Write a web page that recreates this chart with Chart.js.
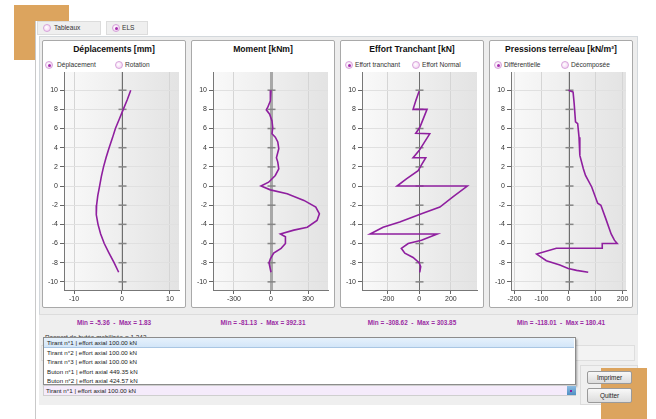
<!DOCTYPE html>
<html>
<head>
<meta charset="utf-8">
<script src="https://cdn.jsdelivr.net/npm/chart.js@4.4.0/dist/chart.umd.min.js"></script>
<style>
body{margin:0;width:656px;height:419px;overflow:hidden;background:#fff;font-family:"Liberation Sans",Arial,sans-serif;position:relative}
div,span,canvas{position:absolute;box-sizing:border-box}
.orange{background:#dca45e}
.tab{background:#efefef;border:1px solid #dcdcdc;height:14px;top:21px}
.radio{width:8px;height:8px;border-radius:50%;border:1px solid #d7a3da;background:radial-gradient(circle at 40% 40%,#fff 0,#f6def6 60%,#ebbfee 100%)}
.radio.on::after{content:"";position:absolute;left:1.5px;top:1.5px;width:3px;height:3px;border-radius:50%;background:#a52fae}
.lbl{font-size:6.6px;color:#333;white-space:nowrap;line-height:8px}
.panel{background:#fff;border:1px solid #a9a9a9;border-radius:2px;top:40px;width:144px;height:268px}
.title{font-size:8.6px;font-weight:bold;color:#111;width:144px;text-align:center;top:44px;white-space:nowrap}
.mm{font-size:6.4px;font-weight:bold;color:#9b2ca3;white-space:nowrap;top:319px;width:150px;text-align:center}
.item{left:0;width:530px;height:9.5px;font-size:6.2px;line-height:9.5px;padding-left:3px;color:#222;white-space:nowrap}
.btn{left:587px;width:45px;border:1px solid #9a9a9a;border-radius:2px;background:linear-gradient(#f8f8f8,#dcdcdc);font-size:6.4px;color:#222;text-align:center}
</style>
</head>
<body>
<div class="orange" style="left:14px;top:5px;width:55px;height:55px"></div>
<div style="left:35px;top:21px;width:621px;height:398px;background:#fff;border-left:1px solid #c9c9c9"></div>

<div class="tab" style="left:37px;width:64px"></div>
<div class="radio" style="left:43px;top:24px"></div>
<span class="lbl" style="left:54px;top:24px">Tableaux</span>
<div class="tab" style="left:106px;width:42px"></div>
<div class="radio on" style="left:112px;top:24px"></div>
<span class="lbl" style="left:122px;top:24px">ELS</span>

<div style="left:39px;top:36px;width:599px;height:369px;background:#ededed;border:1px solid #d3d8dc"></div>
<div style="left:39px;top:314px;width:599px;height:91px;border-top:1px solid #dcdcdc;background:#efefef"></div>

<div class="panel" style="left:42px"></div>
<div class="panel" style="left:191px"></div>
<div class="panel" style="left:340px"></div>
<div class="panel" style="left:489px"></div>

<span class="title" style="left:42px">Déplacements [mm]</span>
<span class="title" style="left:191px">Moment [kNm]</span>
<span class="title" style="left:340px">Effort Tranchant [kN]</span>
<span class="title" style="left:489px">Pressions terre/eau [kN/m²]</span>

<div class="radio on" style="left:45px;top:61px"></div><span class="lbl" style="left:57px;top:61px">Déplacement</span>
<div class="radio" style="left:115px;top:61px"></div><span class="lbl" style="left:125px;top:61px">Rotation</span>
<div class="radio on" style="left:345px;top:61px"></div><span class="lbl" style="left:355px;top:61px">Effort tranchant</span>
<div class="radio" style="left:412px;top:61px"></div><span class="lbl" style="left:422px;top:61px">Effort Normal</span>
<div class="radio on" style="left:494px;top:61px"></div><span class="lbl" style="left:504px;top:61px">Différentielle</span>
<div class="radio" style="left:561px;top:61px"></div><span class="lbl" style="left:571px;top:61px">Décomposée</span>

<canvas id="c1" width="141" height="238" style="left:42px;top:70px"></canvas>
<canvas id="c2" width="141" height="238" style="left:191px;top:70px"></canvas>
<canvas id="c3" width="141" height="238" style="left:340px;top:70px"></canvas>
<canvas id="c4" width="141" height="238" style="left:489px;top:70px"></canvas>

<span class="mm" style="left:39px">Min = -5.36 &nbsp;- &nbsp;Max = 1.83</span>
<span class="mm" style="left:188px">Min = -81.13 &nbsp;- &nbsp;Max = 392.31</span>
<span class="mm" style="left:337px">Min = -308.62 &nbsp;- &nbsp;Max = 303.85</span>
<span class="mm" style="left:486px">Min = -118.01 &nbsp;- &nbsp;Max = 180.41</span>

<span class="lbl" style="left:45px;top:334px;font-size:6.4px">Rapport de butée mobilisée = 1.343</span>
<div style="left:41px;top:345px;width:594px;height:16px;background:#f3f3f3;border:1px solid #dedede"></div>

<div style="left:43px;top:337px;width:533px;height:48px;background:#fff;border:1px solid #8c8c8c;box-shadow:1px 2px 2px rgba(0,0,0,.35)">
  <div class="item" style="top:0;background:linear-gradient(#e6f1fc,#d3e6f8);border-bottom:1px solid #a9c6e3">Tirant n°1 | effort axial 100.00 kN</div>
  <div class="item" style="top:9.5px">Tirant n°2 | effort axial 100.00 kN</div>
  <div class="item" style="top:19px">Tirant n°3 | effort axial 100.00 kN</div>
  <div class="item" style="top:28.5px">Buton n°1 | effort axial 449.35 kN</div>
  <div class="item" style="top:38px">Buton n°2 | effort axial 424.57 kN</div>
</div>
<div style="left:43px;top:385px;width:533px;height:11px;background:#f5ebfb;border:1px solid #cfcfcf">
  <div class="item" style="top:0;height:9px;line-height:9px;padding-left:2px">Tirant n°1 | effort axial 100.00 kN</div>
  <div style="left:523px;top:0;width:9px;height:9px;background:linear-gradient(#8dbde3,#4f8fc2)"><div style="left:3px;top:3.5px;width:2px;height:2px;background:#8a1f9a"></div></div>
</div>

<div style="left:580px;top:365px;width:58px;height:40px;background:#f0f0f0;border:1px solid #dcdcdc"></div>
<div class="orange" style="left:601px;top:368px;width:46px;height:51px"></div>
<div class="btn" style="top:371px;height:13px;line-height:11px">Imprimer</div>
<div class="btn" style="top:388px;height:15px;line-height:13px">Quitter</div>

<script>
// profondeurs (m) et valeurs
const dispDepth = [10, 9, 8, 7, 6, 5, 4, 3, 2, 1, 0, -1, -2, -3, -4, -5, -6, -7, -8, -9];
const dispValue = [1.83, 1.1, 0.27, -0.55, -1.37, -2.0, -2.68, -3.3, -3.85, -4.3, -4.67, -5.05, -5.3, -5.36, -5.0, -4.45, -3.7, -2.7, -1.65, -0.69];

const momDepth = [10, 8.9, 8.2, 7.95, 7.5, 6.8, 6.1, 5.45, 5.1, 4.6, 3.9, 2.95, 2.5, 1.8, 1.1, 0.4, 0, -0.4, -0.8, -1.5, -2.2, -2.9, -3.6, -4.3, -4.6, -5.0, -5.3, -6.0, -6.5, -7.0, -7.6, -8.0, -9.0];
const momValue = [0, -5, -27, -38, -11, 8, 14, 8, 35, 55, 63, 44, 55, 63, 35, -19, -81.13, -5, 131, 267, 363, 392.31, 373, 294, 185, 76, 117, 117, 82, 22, -5, -16, 0];

const shearDepth = [9.9, 8.9, 8.0, 8.0, 6.8, 6.1, 5.5, 5.45, 4.35, 3.7, 2.95, 2.95, 2.2, 1.6, 0.75, 0, 0, -1.1, -2.2, -2.9, -3.75, -4.3, -5.0, -5.0, -5.65, -6.0, -6.5, -7.0, -7.45, -8.0, -8.4, -9.0];
const shearValue = [0, -21, -38, 50, 21, 4, -21, 67, 25, 0, -38, 42, 15, -6, -80, -139, 303.85, 215, 131, 15, -122, -227, -308.62, 114, 15, -69, -112, -90, -38, 0, 10, 4];

const pressDepth = [10, 9.8, 8.6, 6.7, 6.5, 5.1, 3.2, 1.8, 1.1, -0.1, -1.8, -2.0, -3.4, -5.0, -5.65, -6.0, -6.0, -6.5, -6.5, -7.1, -7.8, -8.25, -8.6, -8.8, -9.0];
const pressValue = [0, 17, 21, 26, 34, 39, 42, 55, 63, 86, 108, 120, 138, 158, 170, 180.41, 125, 125, -45, -118.01, -82, -32, -1, 30, 73];

const yTicks = [-10, -8, -6, -4, -2, 0, 2, 4, 6, 8, 10];
const dispTicks = [-10, 0, 10];
const momTicks = [-300, 0, 300];
const shearTicks = [-200, 0, 200];
const pressTicks = [-200, -100, 0, 100, 200];

const purple = '#8f1f9f';

const deco = {
  id: 'deco',
  beforeDraw(chart) {
    const ctx = chart.ctx, a = chart.chartArea;
    const g = ctx.createLinearGradient(a.left, 0, a.right, 0);
    g.addColorStop(0, '#f9f9f9');
    g.addColorStop(1, '#e3e3e3');
    ctx.save();
    ctx.fillStyle = g;
    ctx.fillRect(a.left, a.top, a.right - a.left, a.bottom - a.top);
    ctx.restore();
  },
  beforeDatasetsDraw(chart, args, opts) {
    const ctx = chart.ctx, a = chart.chartArea;
    const x0 = Math.round(chart.scales.x.getPixelForValue(0)) + 0.5;
    ctx.save();
    ctx.strokeStyle = opts.wide ? '#a8a8a8' : '#6e6e6e';
    ctx.lineWidth = opts.wide ? 3 : 1;
    ctx.beginPath();
    ctx.moveTo(x0, a.top);
    ctx.lineTo(x0, a.bottom);
    ctx.stroke();
    ctx.strokeStyle = '#858585';
    ctx.lineWidth = 1.5;
    yTicks.forEach(function (v) {
      const y = chart.scales.y.getPixelForValue(v);
      ctx.beginPath();
      ctx.moveTo(x0 - 4, y);
      ctx.lineTo(x0 + 4, y);
      ctx.stroke();
    });
    ctx.restore();
  }
};

function makeChart(id, depth, values, xmin, xmax, xticks, wide) {
  const pts = depth.map(function (d, i) { return { x: values[i], y: d }; });
  return new Chart(document.getElementById(id), {
    type: 'scatter',
    data: {
      datasets: [{
        data: pts,
        showLine: true,
        borderColor: purple,
        borderWidth: 1.6,
        pointRadius: 0,
        tension: 0
      }]
    },
    options: {
      responsive: false,
      animation: false,
      devicePixelRatio: 1,
      layout: { padding: { top: 2, right: 4, left: 0, bottom: 0 } },
      plugins: { legend: { display: false }, tooltip: { enabled: false }, deco: { wide: wide } },
      scales: {
        x: {
          type: 'linear', min: xmin, max: xmax,
          afterBuildTicks: function (s) { s.ticks = xticks.map(function (v) { return { value: v }; }); },
          afterFit: function (s) { s.height = 18; s.paddingLeft = 0; s.paddingRight = 0; },
          grid: { color: '#d5d5d5', tickColor: '#666', tickLength: 4 },
          border: { color: '#777' },
          ticks: { font: { family: 'Liberation Sans', size: 7 }, color: '#333', padding: 1, maxRotation: 0 }
        },
        y: {
          type: 'linear', min: -10.85, max: 11.9,
          afterBuildTicks: function (s) { s.ticks = yTicks.map(function (v) { return { value: v }; }); },
          afterFit: function (s) { s.width = 22; s.paddingTop = 0; s.paddingBottom = 0; },
          grid: { color: '#e0e0e0', tickColor: '#666', tickLength: 4 },
          border: { color: '#777' },
          ticks: { font: { family: 'Liberation Sans', size: 7 }, color: '#333', padding: 2 }
        }
      }
    },
    plugins: [deco]
  });
}

makeChart('c1', dispDepth, dispValue, -12.1, 11.9, dispTicks, false);
makeChart('c2', momDepth, momValue, -470, 462, momTicks, true);
makeChart('c3', shearDepth, shearValue, -360, 365, shearTicks, false);
makeChart('c4', pressDepth, pressValue, -213, 213, pressTicks, false);
</script>
</body>
</html>
